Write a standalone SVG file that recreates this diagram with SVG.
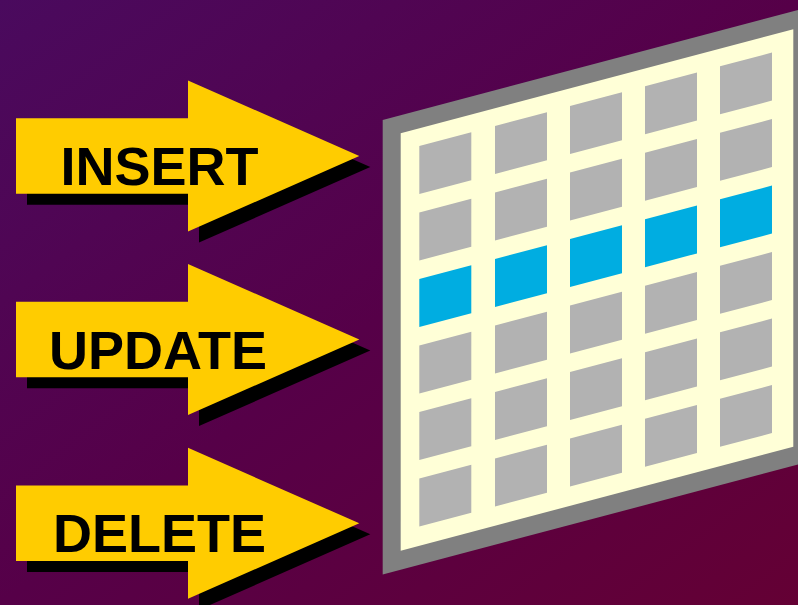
<svg xmlns="http://www.w3.org/2000/svg" width="798" height="605" viewBox="0 0 798 605">
  <defs>
    <linearGradient id="bg" x1="0" y1="0" x2="1" y2="1">
      <stop offset="0" stop-color="#4A0A5E"/>
      <stop offset="0.5" stop-color="#560048"/>
      <stop offset="1" stop-color="#640034"/>
    </linearGradient>
    <polygon id="arrowShape" points="16,-37.7 188,-37.7 188,-75.5 359.3,0 188,75.5 188,37.7 16,37.7"/>
  </defs>
  <style>
    .shadow { fill: #000000; }
    .arrow { fill: #FFCC00; }
    .label { font-family: "Liberation Sans", Arial, sans-serif; font-weight: bold; font-size: 54px; fill: #000000; }
    .frame { fill: #808080; }
    .sheet { fill: #FFFFD7; }
    .cell { fill: #B2B2B2; }
    .hl { fill: #00ADE1; }
  </style>
  <rect x="0" y="0" width="798" height="605" fill="url(#bg)"/>

  <g id="insert" transform="translate(0,156)">
    <use href="#arrowShape" class="shadow" transform="translate(11,11)"/>
    <use href="#arrowShape" class="arrow"/>
    <text class="label" x="60.5" y="29">INSERT</text>
  </g>

  <g id="update" transform="translate(0,339.5)">
    <use href="#arrowShape" class="shadow" transform="translate(11,11)"/>
    <use href="#arrowShape" class="arrow"/>
    <text class="label" x="49" y="29">UPDATE</text>
  </g>

  <g id="delete" transform="translate(0,523.3)">
    <use href="#arrowShape" class="shadow" transform="translate(11,11)"/>
    <use href="#arrowShape" class="arrow"/>
    <text class="label" x="53" y="28.5">DELETE</text>
  </g>

  <g id="table" transform="translate(400.7,133.3) skewY(-14.84)">
    <rect class="frame" x="-18" y="-18" width="430" height="454.5"/>
    <rect class="sheet" x="0" y="0" width="392.6" height="417.4"/>
    <g id="row1">
      <rect class="cell" x="18.6" y="17.6" width="52" height="48"/>
      <rect class="cell" x="94.3" y="17.6" width="52" height="48"/>
      <rect class="cell" x="169.3" y="17.6" width="52" height="48"/>
      <rect class="cell" x="244.3" y="17.6" width="52" height="48"/>
      <rect class="cell" x="319.3" y="17.6" width="52" height="48"/>
    </g>
    <g id="row2">
      <rect class="cell" x="18.6" y="84.1" width="52" height="48"/>
      <rect class="cell" x="94.3" y="84.1" width="52" height="48"/>
      <rect class="cell" x="169.3" y="84.1" width="52" height="48"/>
      <rect class="cell" x="244.3" y="84.1" width="52" height="48"/>
      <rect class="cell" x="319.3" y="84.1" width="52" height="48"/>
    </g>
    <g id="row3">
      <rect class="hl" x="18.6" y="150.6" width="52" height="48"/>
      <rect class="hl" x="94.3" y="150.6" width="52" height="48"/>
      <rect class="hl" x="169.3" y="150.6" width="52" height="48"/>
      <rect class="hl" x="244.3" y="150.6" width="52" height="48"/>
      <rect class="hl" x="319.3" y="150.6" width="52" height="48"/>
    </g>
    <g id="row4">
      <rect class="cell" x="18.6" y="217.1" width="52" height="48"/>
      <rect class="cell" x="94.3" y="217.1" width="52" height="48"/>
      <rect class="cell" x="169.3" y="217.1" width="52" height="48"/>
      <rect class="cell" x="244.3" y="217.1" width="52" height="48"/>
      <rect class="cell" x="319.3" y="217.1" width="52" height="48"/>
    </g>
    <g id="row5">
      <rect class="cell" x="18.6" y="283.6" width="52" height="48"/>
      <rect class="cell" x="94.3" y="283.6" width="52" height="48"/>
      <rect class="cell" x="169.3" y="283.6" width="52" height="48"/>
      <rect class="cell" x="244.3" y="283.6" width="52" height="48"/>
      <rect class="cell" x="319.3" y="283.6" width="52" height="48"/>
    </g>
    <g id="row6">
      <rect class="cell" x="18.6" y="350.1" width="52" height="48"/>
      <rect class="cell" x="94.3" y="350.1" width="52" height="48"/>
      <rect class="cell" x="169.3" y="350.1" width="52" height="48"/>
      <rect class="cell" x="244.3" y="350.1" width="52" height="48"/>
      <rect class="cell" x="319.3" y="350.1" width="52" height="48"/>
    </g>
  </g>
</svg>
